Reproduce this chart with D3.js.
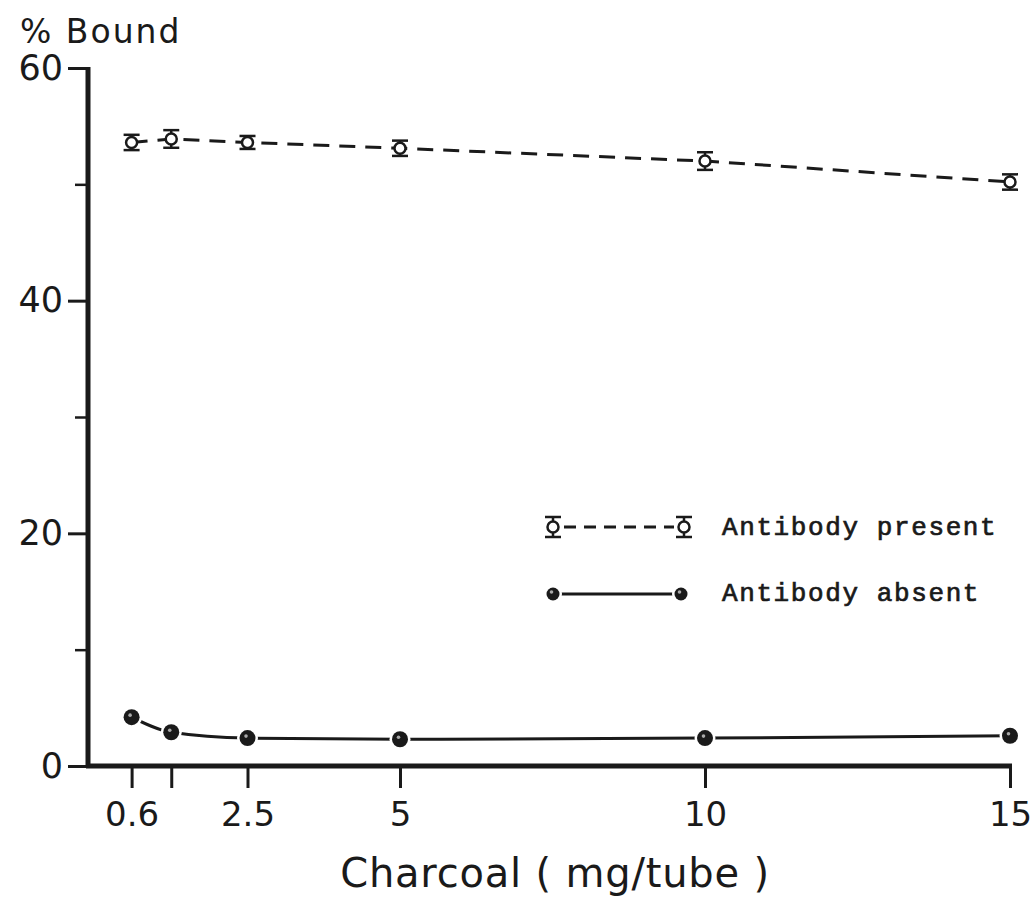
<!DOCTYPE html>
<html>
<head>
<meta charset="utf-8">
<script src="https://cdn.jsdelivr.net/npm/d3@7"></script>
<style>
  html, body { margin: 0; padding: 0; background: #fff; }
  svg { display: block; }
  .lbl { font-family: "DejaVu Sans", sans-serif; fill: #1a1a1a; }
  .leg { font-family: "Liberation Mono", "Courier New", monospace; fill: #1a1a1a; }
</style>
</head>
<body>
<svg id="chart" width="1032" height="906"></svg>
<script>
// Charcoal dose (mg/tube)
const charcoal = [0.6, 1.25, 2.5, 5, 10, 15];
// % bound with antibody present (mean) and its error
const boundPresent = [53.6, 53.9, 53.6, 53.1, 52.0, 50.2];
const errPresent = [0.4, 0.5, 0.3, 0.4, 0.5, 0.4];
// % bound with antibody absent
const boundAbsent = [4.2, 2.9, 2.4, 2.3, 2.4, 2.6];

const xTicks = [0.6, 1.25, 2.5, 5, 10, 15];
const xTickLabels = ["0.6", "", "2.5", "5", "10", "15"];
const yMajor = [0, 20, 40, 60];
const yMinor = [10, 30, 50];

const svg = d3.select("#chart");
const x = d3.scaleLinear().domain([0, 15]).range([95, 1010]);
const y = d3.scaleLinear().domain([0, 60]).range([766, 68]);
const ink = "#1a1a1a";

// Axes
const xAxis = d3.axisBottom(x).tickValues(xTicks).tickFormat((d, i) => xTickLabels[i])
  .tickSize(22).tickSizeOuter(0).tickPadding(14);
const gx = svg.append("g").attr("transform", `translate(0,${y(0)})`).call(xAxis);
gx.select(".domain").remove();
gx.selectAll(".tick line").attr("stroke", ink).attr("stroke-width", 3);
gx.selectAll(".tick text").attr("class", "lbl").attr("font-size", 34).attr("fill", ink);
svg.append("line").attr("x1", 86).attr("x2", 1012).attr("y1", y(0)).attr("y2", y(0))
  .attr("stroke", ink).attr("stroke-width", 5);

const yAxis = d3.axisLeft(y).tickValues(yMajor).tickSize(20).tickSizeOuter(0).tickPadding(5);
const gy = svg.append("g").attr("transform", "translate(88,0)").call(yAxis);
gy.select(".domain").remove();
gy.selectAll(".tick line").attr("stroke", ink).attr("stroke-width", 3);
gy.selectAll(".tick text").attr("class", "lbl").attr("font-size", 35).attr("fill", ink);
const gyMinor = svg.append("g").attr("transform", "translate(88,0)")
  .call(d3.axisLeft(y).tickValues(yMinor).tickSize(13).tickFormat(""));
gyMinor.select(".domain").remove();
gyMinor.selectAll(".tick line").attr("stroke", ink).attr("stroke-width", 2.5);
svg.append("line").attr("x1", 88).attr("x2", 88).attr("y1", y(60) - 1).attr("y2", y(0) + 2)
  .attr("stroke", ink).attr("stroke-width", 5);

// Axis titles
svg.append("text").attr("class", "lbl").attr("x", 20).attr("y", 43)
  .attr("font-size", 33).attr("letter-spacing", 2).text("% Bound");
svg.append("text").attr("class", "lbl").attr("x", 555).attr("y", 887)
  .attr("text-anchor", "middle").attr("font-size", 40).attr("letter-spacing", 0.8)
  .text("Charcoal ( mg/tube )");

const present = charcoal.map((c, i) => ({ x: c, y: boundPresent[i], e: errPresent[i] }));
const absent = charcoal.map((c, i) => ({ x: c, y: boundAbsent[i] }));

// Antibody present: dashed line
svg.append("path").datum(present)
  .attr("fill", "none").attr("stroke", ink).attr("stroke-width", 3)
  .attr("stroke-dasharray", "16,10")
  .attr("d", d3.line().x(d => x(d.x)).y(d => y(d.y)));

// Antibody absent: solid smooth line
svg.append("path").datum(absent)
  .attr("fill", "none").attr("stroke", ink).attr("stroke-width", 3)
  .attr("d", d3.line().curve(d3.curveMonotoneX).x(d => x(d.x)).y(d => y(d.y)));

function presentMarker(g, cx, cy, eTop, eBot) {
  g.append("line").attr("x1", cx).attr("x2", cx).attr("y1", eTop).attr("y2", eBot)
    .attr("stroke", ink).attr("stroke-width", 2.5);
  [eTop, eBot].forEach(yy => g.append("line").attr("x1", cx - 8).attr("x2", cx + 8)
    .attr("y1", yy).attr("y2", yy).attr("stroke", ink).attr("stroke-width", 2.5));
  g.append("circle").attr("cx", cx).attr("cy", cy).attr("r", 5.5)
    .attr("fill", "#fff").attr("stroke", ink).attr("stroke-width", 2.5);
}
function absentMarker(g, cx, cy, r) {
  g.append("circle").attr("cx", cx).attr("cy", cy).attr("r", r + 2.5).attr("fill", "#fff");
  g.append("circle").attr("cx", cx).attr("cy", cy).attr("r", r).attr("fill", ink);
  g.append("circle").attr("cx", cx - 1.5).attr("cy", cy - 2).attr("r", 1.8).attr("fill", "#aaa");
}

const gp = svg.append("g");
present.forEach(d => presentMarker(gp, x(d.x), y(d.y), y(d.y + d.e) - 3, y(d.y - d.e) + 3));
const ga = svg.append("g");
absent.forEach(d => absentMarker(ga, x(d.x), y(d.y), 8));

// Legend
const leg = svg.append("g");
leg.append("line").attr("x1", 564).attr("x2", 674).attr("y1", 527).attr("y2", 527)
  .attr("stroke", ink).attr("stroke-width", 3).attr("stroke-dasharray", "12,8");
presentMarker(leg, 553, 527, 517, 537);
presentMarker(leg, 684, 527, 517, 537);
leg.append("line").attr("x1", 560).attr("x2", 676).attr("y1", 594).attr("y2", 594)
  .attr("stroke", ink).attr("stroke-width", 3);
absentMarker(leg, 553, 594, 6.5);
absentMarker(leg, 681, 594, 6.5);
leg.append("text").attr("class", "leg").attr("x", 722).attr("y", 535)
  .attr("font-size", 26).attr("letter-spacing", 1.6)
  .attr("stroke", ink).attr("stroke-width", 0.7).text("Antibody present");
leg.append("text").attr("class", "leg").attr("x", 722).attr("y", 601)
  .attr("font-size", 26).attr("letter-spacing", 1.6)
  .attr("stroke", ink).attr("stroke-width", 0.7).text("Antibody absent");
</script>
</body>
</html>
